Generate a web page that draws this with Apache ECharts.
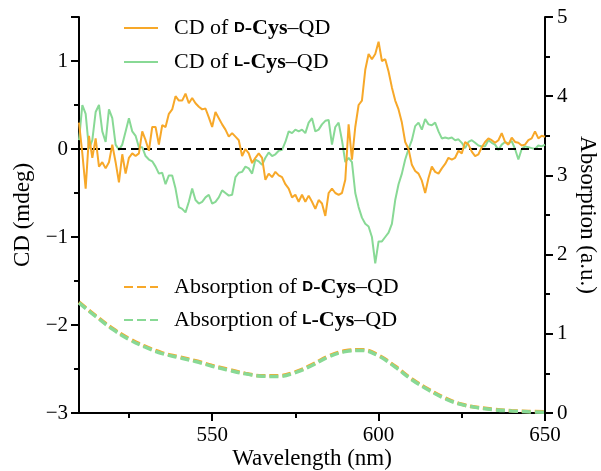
<!DOCTYPE html>
<html><head><meta charset="utf-8">
<script src="https://cdn.jsdelivr.net/npm/echarts@6/dist/echarts.min.js"></script>
<style>html,body{margin:0;padding:0;background:#fff}#c{width:601px;height:471px}</style>
</head><body><div id="c"></div>
<script>
// Wavelength grid (nm) for the CD spectra, 1 nm step
const wavelengths = [];
for (let w = 510; w <= 650; w++) wavelengths.push(w);

// CD of D-Cys–QD (mdeg), 510..650 nm
const cdD = [
 0.30,-0.05,-0.45,0.15,-0.10,0.12,-0.20,-0.15,-0.22,-0.15,
 0.05,-0.15,-0.38,-0.06,-0.28,-0.10,-0.05,-0.08,-0.05,0.20,
 0.10,-0.02,0.25,0.25,0.05,0.27,0.25,0.40,0.45,0.60,
 0.55,0.55,0.63,0.52,0.58,0.52,0.48,0.45,0.46,0.36,
 0.25,0.42,0.35,0.28,0.22,0.14,0.18,0.14,0.10,-0.08,
 0.00,-0.05,-0.16,-0.10,-0.05,-0.10,-0.35,-0.28,-0.32,-0.26,
 -0.30,-0.32,-0.40,-0.45,-0.55,-0.52,-0.60,-0.52,-0.60,-0.53,
 -0.60,-0.68,-0.58,-0.62,-0.76,-0.50,-0.45,-0.50,-0.52,-0.50,
 -0.35,0.28,-0.12,0.25,0.50,0.55,0.90,1.08,1.02,1.08,
 1.22,1.00,1.02,0.88,0.70,0.55,0.45,0.30,0.08,0.00,
 -0.18,-0.25,-0.28,-0.36,-0.50,-0.33,-0.20,-0.26,-0.28,-0.22,
 -0.17,-0.10,-0.12,-0.10,-0.02,-0.05,0.08,0.05,-0.03,-0.08,
 -0.06,0.02,0.08,0.12,0.10,0.07,0.10,0.18,0.08,0.05,
 0.13,0.08,0.07,0.04,0.05,0.10,0.12,0.20,0.12,0.15,
 0.14
];

// CD of L-Cys–QD (mdeg), 510..650 nm
const cdL = [
 0.10,0.50,0.40,0.00,0.10,0.42,0.50,0.20,0.08,0.45,
 0.35,0.05,-0.01,0.05,0.20,0.35,0.20,0.15,0.02,0.02,
 -0.08,-0.12,-0.14,-0.20,-0.28,-0.27,-0.40,-0.30,-0.30,-0.45,
 -0.66,-0.68,-0.72,-0.60,-0.45,-0.58,-0.62,-0.60,-0.55,-0.52,
 -0.62,-0.60,-0.55,-0.47,-0.50,-0.53,-0.52,-0.32,-0.27,-0.26,
 -0.20,-0.22,-0.28,-0.12,-0.14,-0.18,-0.10,-0.04,-0.08,-0.06,
 -0.02,-0.01,0.08,0.20,0.18,0.22,0.20,0.22,0.18,0.30,
 0.35,0.20,0.22,0.28,0.32,0.33,0.05,0.25,0.30,0.10,
 -0.15,-0.10,-0.15,-0.50,-0.66,-0.78,-0.85,-0.88,-1.00,-1.30,
 -1.05,-1.05,-1.00,-0.95,-0.85,-0.58,-0.40,-0.28,-0.12,0.00,
 0.10,0.26,0.30,0.22,0.34,0.28,0.27,0.30,0.20,0.12,
 0.13,0.12,0.13,0.10,0.11,0.07,0.01,0.08,0.10,0.07,
 0.04,0.03,0.03,0.10,0.07,0.05,-0.01,0.05,0.08,0.06,
 0.09,0.00,-0.12,0.00,0.03,0.02,0.01,0.00,0.04,0.03,
 0.05
];

// Absorption spectra (a.u.)
const absWavelengths = [510,515,520,525,530,535,540,545,550,555,560,565,570,575,580,585,590,595,600,605,610,615,620,625,630,635,640,645,650];
const absD = [1.40,1.23,1.07,0.94,0.84,0.76,0.71,0.66,0.60,0.55,0.50,0.47,0.47,0.52,0.61,0.72,0.785,0.80,0.73,0.59,0.43,0.30,0.19,0.11,0.07,0.045,0.03,0.02,0.015];
const absL = [1.39,1.22,1.06,0.93,0.83,0.75,0.70,0.65,0.59,0.54,0.495,0.465,0.46,0.51,0.60,0.71,0.775,0.79,0.72,0.58,0.42,0.29,0.18,0.105,0.065,0.04,0.025,0.015,0.01];

// Tick labels
const xLabels = [550, 600, 650];
const xMinorTicks = [525, 575, 625];

const ORANGE = '#F7A829';
const GREEN = '#88D995';
const FONT = 'Liberation Serif';

const pair = (xs, ys) => xs.map((x, i) => [x, ys[i]]);
const minus = v => String(v).replace('-', '\u2212');

const legendRich = {
  sp: { width: 11 },
  sc: { fontFamily: 'Liberation Sans', fontWeight: 'bold', fontSize: 15, color: '#000' },
  b: { fontFamily: FONT, fontWeight: 'bold', fontSize: 22, color: '#000' }
};
const legendFmt = name => {
  const m = name.match(/^(.*of )([DL])(-Cys)(–QD)$/);
  return '{sp| }' + m[1] + '{sc|' + m[2] + '}{b|' + m[3] + '}' + m[4];
};

const chart = echarts.init(document.getElementById('c'), null, { renderer: 'canvas' });
chart.setOption({
  animation: false,
  backgroundColor: '#fff',
  textStyle: { fontFamily: FONT, color: '#000' },
  grid: [
    { left: 79, right: 56, top: 17, bottom: 58, outerBoundsMode: 'none', containLabel: false },
    { left: 79, right: 56, top: 17, bottom: 58, outerBoundsMode: 'none', containLabel: false }
  ],
  legend: [
    {
      data: ['CD of D-Cys–QD', 'CD of L-Cys–QD'],
      orient: 'vertical', left: 123, top: 16, padding: 0, itemWidth: 34, itemHeight: 2, itemGap: 10,
      itemStyle: { opacity: 0 },
      formatter: legendFmt,
      textStyle: { fontFamily: FONT, fontSize: 22, color: '#000', lineHeight: 24, rich: legendRich }
    },
    {
      data: ['Absorption of D-Cys–QD', 'Absorption of L-Cys–QD'],
      orient: 'vertical', left: 123, top: 275, padding: 0, itemWidth: 34, itemHeight: 2, itemGap: 9,
      itemStyle: { opacity: 0 },
      formatter: legendFmt,
      textStyle: { fontFamily: FONT, fontSize: 22, color: '#000', lineHeight: 24, rich: legendRich }
    }
  ],
  xAxis: [
    {
      type: 'value', gridIndex: 0, min: 510, max: 650,
      name: 'Wavelength (nm)', nameLocation: 'middle', nameGap: 34, nameMoveOverlap: false,
      nameTextStyle: { fontFamily: FONT, fontSize: 23, color: '#000' },
      axisLine: { show: true, onZero: false, lineStyle: { color: '#000', width: 2 } },
      axisTick: { show: true, inside: false, length: 8, lineStyle: { color: '#000', width: 2 }, customValues: xLabels },
      axisLabel: { customValues: xLabels, fontFamily: FONT, fontSize: 21, color: '#000', margin: 12 },
      splitLine: { show: false }
    },
    {
      type: 'value', gridIndex: 1, min: 510, max: 650,
      axisLine: { show: false },
      axisTick: { show: true, inside: false, length: 5, lineStyle: { color: '#000', width: 2 }, customValues: xMinorTicks },
      axisLabel: { show: false },
      splitLine: { show: false }
    }
  ],
  yAxis: [
    {
      type: 'value', gridIndex: 0, min: -3, max: 1.5, interval: 1, position: 'left',
      name: 'CD (mdeg)', nameLocation: 'middle', nameGap: 45, nameMoveOverlap: false,
      nameTextStyle: { fontFamily: FONT, fontSize: 23, color: '#000' },
      axisLine: { show: true, onZero: false, lineStyle: { color: '#000', width: 2 } },
      axisTick: { show: true, inside: false, length: 8, lineStyle: { color: '#000', width: 2 } },
      minorTick: { show: true, splitNumber: 2, length: 5, lineStyle: { color: '#000', width: 2 } },
      axisLabel: { fontFamily: FONT, fontSize: 21, color: '#000', margin: 11, showMaxLabel: false, formatter: minus },
      splitLine: { show: false }
    },
    {
      type: 'value', gridIndex: 0, min: 0, max: 5, interval: 1, position: 'right',
      name: 'Absorption (a.u.)', nameLocation: 'middle', nameGap: 31, nameRotate: -90, nameMoveOverlap: false,
      nameTextStyle: { fontFamily: FONT, fontSize: 23, color: '#000' },
      axisLine: { show: true, onZero: false, lineStyle: { color: '#000', width: 2 } },
      axisTick: { show: true, inside: false, length: 8, lineStyle: { color: '#000', width: 2 } },
      minorTick: { show: true, splitNumber: 2, length: 5, lineStyle: { color: '#000', width: 2 } },
      axisLabel: { fontFamily: FONT, fontSize: 21, color: '#000', margin: 12 },
      splitLine: { show: false }
    },
    { type: 'value', gridIndex: 1, min: 0, max: 1, show: false }
  ],
  series: [
    {
      name: 'Absorption of D-Cys–QD', type: 'line', xAxisIndex: 0, yAxisIndex: 1,
      data: pair(absWavelengths, absD), symbol: 'none', smooth: 0.4, color: ORANGE,
      lineStyle: { color: ORANGE, width: 3.5, type: [9, 4] }, z: 2
    },
    {
      name: 'Absorption of L-Cys–QD', type: 'line', xAxisIndex: 0, yAxisIndex: 1,
      data: pair(absWavelengths, absL), symbol: 'none', smooth: 0.4, color: GREEN,
      lineStyle: { color: GREEN, width: 3.5, type: [9, 4] }, z: 3
    },
    {
      name: 'CD of L-Cys–QD', type: 'line', xAxisIndex: 0, yAxisIndex: 0,
      data: pair(wavelengths, cdL), symbol: 'none', color: GREEN,
      lineStyle: { color: GREEN, width: 2 }, z: 4
    },
    {
      name: 'CD of D-Cys–QD', type: 'line', xAxisIndex: 0, yAxisIndex: 0,
      data: pair(wavelengths, cdD), symbol: 'none', color: ORANGE,
      lineStyle: { color: ORANGE, width: 2 }, z: 5,
      markLine: {
        silent: true, symbol: 'none', label: { show: false },
        lineStyle: { color: '#000', width: 2, type: [8, 5] },
        data: [{ yAxis: 0 }]
      }
    }
  ]
});
</script>
</body></html>
